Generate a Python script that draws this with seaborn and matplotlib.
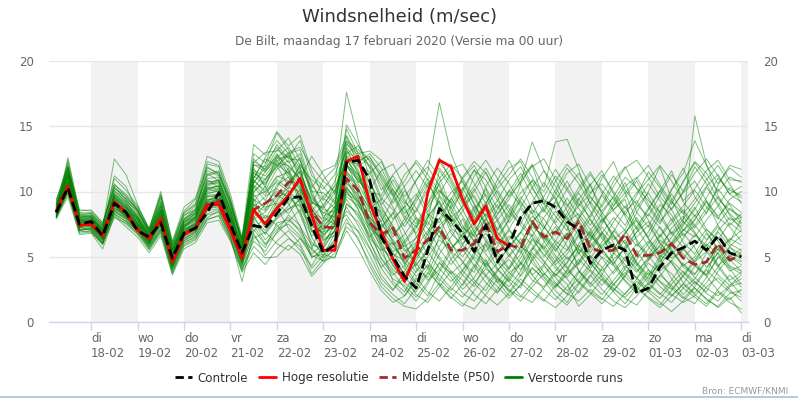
import matplotlib
matplotlib.use('Agg')
import matplotlib.pyplot as plt
from matplotlib.lines import Line2D
import pandas as pd
import seaborn as sns

# eerste tijdstap en aantal 6-uurlijkse stappen
start = '2020-02-17 06:00'
n_steps = 60

day_ticks = ['2020-02-18', '2020-02-19', '2020-02-20', '2020-02-21', '2020-02-22',
             '2020-02-23', '2020-02-24', '2020-02-25', '2020-02-26', '2020-02-27',
             '2020-02-28', '2020-02-29', '2020-03-01', '2020-03-02', '2020-03-03']
day_names = ['di', 'wo', 'do', 'vr', 'za', 'zo', 'ma', 'di', 'wo', 'do', 'vr', 'za', 'zo', 'ma', 'di']
day_labels = ['18-02', '19-02', '20-02', '21-02', '22-02', '23-02', '24-02', '25-02',
              '26-02', '27-02', '28-02', '29-02', '01-03', '02-03', '03-03']

# hoge resolutie loopt maar 10 dagen
hoge_resolutie = [8.5, 10.4, 7.4, 7.5, 6.6, 9.2, 8.4, 7.0, 6.4, 7.9, 4.6, 6.7, 7.2, 9.0, 9.0,
                  7.0, 4.9, 8.6, 7.5, 8.7, 9.7, 11.0, 8.2, 5.5, 5.5, 12.3, 12.7, 9.1, 6.9, 4.8,
                  3.1, 5.3, 9.9, 12.4, 11.9, 9.4, 7.5, 8.9, 6.4, 5.8]

controle = [8.4, 10.3, 7.5, 7.7, 6.6, 9.1, 8.4, 7.0, 6.5, 7.6, 4.9, 6.8, 7.2, 8.4, 9.9,
            7.5, 5.3, 7.4, 7.2, 8.3, 9.5, 9.6, 7.4, 5.3, 5.9, 12.2, 12.4, 10.9, 6.5, 5.0,
            3.5, 2.6, 5.5, 8.7, 7.8, 6.8, 5.4, 7.4, 4.6, 5.9, 8.0, 9.1, 9.3, 8.8, 7.7,
            7.1, 4.5, 5.5, 5.9, 5.5, 2.2, 2.6, 4.2, 5.3, 5.7, 6.2, 5.5, 6.6, 5.3, 5.0]

middelste = [8.4, 10.3, 7.5, 7.6, 6.7, 9.1, 8.4, 7.1, 6.5, 7.8, 4.7, 6.8, 7.2, 8.8, 9.3,
             7.3, 5.0, 8.6, 9.1, 9.7, 10.7, 10.9, 8.5, 7.3, 7.2, 11.0, 10.1, 7.6, 6.7, 7.2,
             4.9, 5.5, 6.3, 7.3, 5.5, 5.5, 6.0, 7.6, 5.4, 5.9, 5.65, 7.7, 6.5, 6.9, 6.4,
             7.7, 5.65, 5.4, 5.5, 6.75, 5.1, 5.1, 5.3, 6.0, 4.9, 4.4, 4.6, 6.0, 4.75, 5.1]

# 50 verstoorde runs, per dag gegroepeerd met |
verstoorde_runs = """
8.2 11.5 7.9 | 7.4 6.5 9.8 9.0 | 8.0 6.6 8.4 5.2 | 7.3 8.1 10.4 10.8 | 8.4 5.6 11.2 10.5 | 12.1 11.4 12.6 9.8 | 8.3 9.1 14.2 12.0 | 10.6 8.9 7.2 5.8 | 6.4 8.1 9.3 7.2 | 6.5 8.4 10.2 7.9 | 6.1 5.3 7.6 8.8 | 9.6 7.4 5.2 6.3 | 7.8 8.6 9.4 6.1 | 4.8 5.5 7.2 8.1 | 6.9 5.4 4.2 5.8 | 6.6
8.8 10.2 7.2 | 7.8 7.0 8.9 8.1 | 7.2 6.0 7.6 4.4 | 6.6 7.0 8.9 9.1 | 7.1 4.6 8.8 9.6 | 10.3 11.8 9.4 7.6 | 6.2 7.0 11.3 10.4 | 7.9 6.1 4.3 3.2 | 4.6 6.8 8.0 6.1 | 4.5 3.8 6.2 5.1 | 4.0 5.7 7.3 6.6 | 5.4 6.8 3.9 2.7 | 3.6 5.2 6.3 4.4 | 3.1 4.9 6.0 5.2 | 4.3 3.6 5.9 4.8 | 3.9
8.0 12.4 8.3 | 8.4 7.4 10.6 9.6 | 8.6 6.8 9.1 5.6 | 7.9 8.7 11.6 11.2 | 9.1 6.2 12.3 11.7 | 13.2 12.6 13.9 11.2 | 10.4 9.2 15.1 13.6 | 11.8 9.5 8.6 6.9 | 5.1 6.4 8.7 9.9 | 10.8 9.1 7.3 8.2 | 9.7 11.1 12.0 9.3 | 8.1 7.0 9.4 10.6 | 8.2 6.3 7.1 8.8 | 9.9 8.4 6.7 7.5 | 8.6 10.3 9.1 7.8 | 8.0
8.6 10.9 7.0 | 7.2 6.2 9.0 8.8 | 7.9 6.4 8.3 5.0 | 7.4 7.9 9.8 10.1 | 7.8 5.3 9.5 7.4 | 9.2 10.6 11.9 8.5 | 6.6 7.8 12.5 11.1 | 9.4 7.0 5.3 4.1 | 2.8 4.1 6.6 5.3 | 3.9 5.1 7.4 4.6 | 3.3 2.6 4.9 6.1 | 7.3 5.8 4.4 5.6 | 6.8 4.7 3.2 2.4 | 3.5 5.1 4.6 3.0 | 2.2 3.4 5.0 4.1 | 2.9
9.1 11.1 8.1 | 8.0 7.1 9.6 8.9 | 7.5 6.7 8.6 5.3 | 7.6 8.3 10.9 10.3 | 8.0 5.9 10.6 12.1 | 14.5 13.2 10.8 8.2 | 7.5 8.9 13.0 11.9 | 12.6 11.4 9.8 8.1 | 7.3 9.0 10.6 8.5 | 7.2 6.6 8.8 10.1 | 8.7 7.4 6.5 5.0 | 6.2 7.7 8.3 7.1 | 5.6 4.4 5.8 6.9 | 7.7 6.0 5.1 6.4 | 7.9 9.2 8.0 7.3 | 6.2
8.3 10.0 6.9 | 7.0 6.0 8.6 7.8 | 7.0 5.8 7.2 4.2 | 6.2 6.8 8.5 8.7 | 6.9 4.3 7.9 8.4 | 9.6 9.9 10.7 7.0 | 5.4 6.2 10.4 9.0 | 7.3 5.8 3.1 2.3 | 3.9 5.6 7.0 4.8 | 3.6 2.7 4.5 3.5 | 2.3 3.6 5.3 4.4 | 3.0 2.1 3.8 5.1 | 4.2 2.9 2.1 3.3 | 4.5 3.8 2.6 1.8 | 2.7 4.0 3.1 2.3 | 1.9
8.7 11.7 7.8 | 7.9 6.9 9.4 8.5 | 7.8 6.5 8.1 5.0 | 7.1 7.5 9.2 9.9 | 7.7 5.2 9.9 11.0 | 11.9 12.8 11.3 9.1 | 8.8 10.5 17.6 14.0 | 11.0 8.3 6.7 7.6 | 9.2 10.7 9.1 6.8 | 5.9 7.3 6.4 5.2 | 6.3 8.0 9.1 7.4 | 6.0 4.8 5.7 7.0 | 8.3 9.6 8.1 6.3 | 5.1 6.6 7.9 6.1 | 5.2 6.8 5.7 4.6 | 5.4
8.1 10.5 7.7 | 7.5 6.7 9.1 8.2 | 7.3 6.1 7.9 4.5 | 6.9 7.3 9.4 9.4 | 7.4 4.9 8.1 6.7 | 7.9 8.6 9.4 6.5 | 5.0 6.4 9.8 9.3 | 8.1 6.4 5.2 4.7 | 6.0 7.9 11.6 10.3 | 8.6 6.9 5.4 6.6 | 7.8 9.3 7.6 6.2 | 4.9 3.7 4.5 6.2 | 7.3 6.1 4.0 3.4 | 4.7 6.3 5.6 4.2 | 3.6 5.3 6.9 5.8 | 4.7
8.9 12.0 8.0 | 8.2 7.3 12.5 11.3 | 9.0 7.1 10.0 6.1 | 8.5 9.4 12.7 12.3 | 9.8 6.5 13.6 12.8 | 14.6 13.5 14.3 11.6 | 9.5 8.7 14.8 12.9 | 13.1 12.4 10.5 9.2 | 8.4 10.2 12.3 11.0 | 9.4 8.0 10.4 11.8 | 10.6 9.1 8.3 9.6 | 11.2 10.1 8.7 7.4 | 9.0 10.8 11.9 10.2 | 8.8 7.5 9.3 10.7 | 12.2 11.0 9.4 8.6 | 8.1
8.4 10.6 7.3 | 7.6 6.4 8.8 8.0 | 7.4 6.2 7.8 4.6 | 6.7 7.1 9.0 9.2 | 7.2 4.7 7.1 5.9 | 6.8 7.7 8.6 5.7 | 4.6 5.7 9.1 8.2 | 6.7 4.9 3.8 2.6 | 1.6 2.9 4.5 3.7 | 2.5 3.4 4.8 3.1 | 2.0 2.8 4.1 3.4 | 2.4 1.5 2.9 4.0 | 3.2 2.3 1.4 2.6 | 3.8 2.7 2.0 2.9 | 4.3 3.5 2.4 1.7 | 2.5
8.5 11.3 7.6 | 7.7 6.8 9.5 8.7 | 7.7 6.6 8.2 5.1 | 7.2 7.8 10.1 10.5 | 8.2 5.4 10.4 9.3 | 10.9 10.2 12.1 10.7 | 8.9 7.6 12.7 11.5 | 8.6 6.0 7.8 8.9 | 6.6 5.2 7.4 8.3 | 10.2 11.7 9.6 7.7 | 5.8 6.9 8.6 7.9 | 6.6 8.4 9.9 8.5 | 6.9 5.6 6.8 8.0 | 6.4 5.0 6.1 7.4 | 8.8 7.1 6.3 7.6 | 6.9
8.0 10.1 7.1 | 7.1 6.1 8.4 7.9 | 6.9 5.7 7.0 4.0 | 6.0 6.6 8.0 8.5 | 6.6 4.1 6.2 5.4 | 6.9 8.2 7.4 4.9 | 5.6 7.1 8.8 7.4 | 5.7 3.6 2.5 3.4 | 5.1 6.3 5.0 3.9 | 2.8 4.2 5.9 4.1 | 3.1 4.5 6.3 5.2 | 4.1 3.3 2.2 3.5 | 5.0 4.3 3.1 2.2 | 2.9 4.4 3.7 2.6 | 3.3 4.7 3.6 2.8 | 3.6
9.3 11.9 8.4 | 8.3 7.5 10.3 9.4 | 8.3 7.0 8.9 5.8 | 8.1 8.9 11.2 11.5 | 9.0 6.1 11.8 10.3 | 12.8 11.9 11.0 12.7 | 11.3 9.8 13.7 12.5 | 10.1 11.6 12.1 10.3 | 8.0 6.6 9.8 11.4 | 9.9 7.8 9.0 10.9 | 12.4 10.5 8.6 7.1 | 9.3 10.8 9.1 8.0 | 9.7 8.5 7.4 9.1 | 10.6 9.3 7.8 8.9 | 10.1 8.8 7.9 9.4 | 10.0
8.6 10.7 7.5 | 7.4 6.6 9.2 8.4 | 7.6 6.3 8.1 4.8 | 7.0 7.7 9.6 9.7 | 7.9 5.1 9.1 8.0 | 8.4 9.2 9.9 7.4 | 6.8 8.6 11.6 10.2 | 8.5 7.3 8.4 6.2 | 4.1 3.4 5.2 6.5 | 7.9 6.1 4.2 5.3 | 6.6 5.5 3.6 4.4 | 5.9 6.8 5.3 4.1 | 5.4 7.0 6.0 4.6 | 3.3 4.6 5.8 6.8 | 5.7 4.2 5.3 6.4 | 5.9
8.2 11.0 7.9 | 7.9 7.2 11.2 10.4 | 8.4 6.9 9.5 5.5 | 7.8 8.5 12.1 11.9 | 9.4 6.0 12.9 12.2 | 13.4 12.2 12.9 10.1 | 8.0 7.5 13.3 11.4 | 8.8 7.7 9.4 11.3 | 12.2 10.9 8.7 7.3 | 8.5 10.0 11.5 9.6 | 7.6 8.8 10.3 11.6 | 10.4 8.5 6.9 8.2 | 9.8 11.2 9.9 7.7 | 6.5 8.2 10.1 11.8 | 9.6 8.3 10.5 12.0 | 11.7
8.8 10.4 7.4 | 7.3 6.3 8.7 8.3 | 7.2 6.0 7.7 4.3 | 6.5 7.2 8.8 9.0 | 7.0 4.5 8.3 7.7 | 8.9 10.1 8.2 6.1 | 5.3 6.0 10.1 8.7 | 6.4 5.5 6.1 4.4 | 3.0 2.0 3.8 5.4 | 4.7 3.2 2.4 3.9 | 5.1 6.4 4.8 3.5 | 2.6 3.9 5.6 4.6 | 3.4 2.4 3.6 5.2 | 6.2 4.9 3.3 2.1 | 3.1 2.3 3.9 5.0 | 4.4
8.4 12.6 8.5 | 8.6 7.6 10.1 9.2 | 8.1 6.8 8.7 5.4 | 7.5 8.2 10.7 10.9 | 8.6 5.8 11.6 11.2 | 12.4 11.1 10.3 8.7 | 7.0 8.1 12.9 13.5 | 12.3 10.1 11.2 9.6 | 10.8 12.4 11.1 8.8 | 7.1 8.9 7.5 6.3 | 7.9 10.6 12.1 10.3 | 13.8 14.0 11.7 9.0 | 7.6 9.2 10.7 8.4 | 7.3 9.0 8.2 6.6 | 7.4 8.7 10.2 9.0 | 7.6
8.5 10.3 7.7 | 7.8 6.9 9.0 8.6 | 7.5 6.4 7.4 4.7 | 6.8 7.4 9.1 9.3 | 7.5 5.0 7.7 6.3 | 7.3 8.0 6.9 5.2 | 6.0 7.4 9.6 8.9 | 7.8 5.9 4.4 3.0 | 2.3 3.7 5.8 7.1 | 5.6 4.3 3.0 2.2 | 3.5 4.9 6.4 5.7 | 4.4 5.2 6.6 5.0 | 3.7 2.8 4.1 5.5 | 4.0 3.1 2.5 3.6 | 4.8 5.9 4.4 3.2 | 3.8
9.0 11.4 8.2 | 8.1 7.0 9.7 9.1 | 8.2 6.7 8.8 5.5 | 7.7 8.0 10.2 10.0 | 8.1 5.7 10.9 9.9 | 11.2 10.8 11.5 9.3 | 8.4 8.0 12.0 10.8 | 9.9 8.7 7.4 6.0 | 7.2 8.8 10.1 9.2 | 7.4 6.2 7.9 9.0 | 7.1 6.0 7.7 8.6 | 7.5 6.3 7.9 9.2 | 8.0 6.7 5.5 6.9 | 8.3 7.2 6.0 7.1 | 6.5 7.8 8.9 7.4 | 8.3
7.9 9.6 6.7 | 6.8 5.6 8.1 7.3 | 6.5 5.3 6.6 3.6 | 5.6 6.1 7.6 7.8 | 6.2 3.8 5.3 4.4 | 5.6 6.4 5.8 3.7 | 4.8 6.1 7.9 6.3 | 4.6 3.0 2.1 1.4 | 2.6 3.8 2.9 1.9 | 1.2 2.4 3.6 2.7 | 1.8 2.9 4.2 3.2 | 2.0 1.3 2.4 3.6 | 2.5 1.6 1.1 2.0 | 3.0 2.2 1.5 2.6 | 1.9 1.2 2.3 1.5 | 1.0
8.6 11.2 7.8 | 7.6 6.7 9.4 8.8 | 7.9 6.5 8.3 5.0 | 7.3 8.0 10.6 10.6 | 8.3 5.5 10.2 11.5 | 12.9 11.6 9.0 7.1 | 6.5 7.7 11.9 10.9 | 9.7 8.0 6.5 7.9 | 9.6 11.5 16.8 12.9 | 10.7 9.0 7.6 6.0 | 7.1 8.7 7.0 5.6 | 6.9 8.1 9.5 7.8 | 6.4 5.3 6.7 8.4 | 10.0 11.9 9.4 7.6 | 15.8 12.1 9.7 8.2 | 7.1
8.3 10.8 7.4 | 7.5 6.5 8.9 8.1 | 7.1 6.2 7.5 4.4 | 6.8 7.3 9.0 9.5 | 7.3 4.8 8.6 9.1 | 10.0 9.6 8.8 6.9 | 7.4 8.2 10.8 9.5 | 6.9 4.8 3.6 4.3 | 5.9 4.7 3.3 2.4 | 3.6 5.0 4.3 3.0 | 4.2 5.8 5.1 3.8 | 2.7 3.6 4.8 3.9 | 2.8 3.9 5.0 4.1 | 2.9 2.1 3.2 4.5 | 3.4 2.6 2.0 2.8 | 3.3
8.7 11.6 7.9 | 8.0 7.0 9.9 9.3 | 8.5 6.9 9.3 5.7 | 7.9 8.4 11.0 11.1 | 8.9 6.2 10.8 10.1 | 11.7 12.4 10.6 8.4 | 7.9 9.6 12.3 12.1 | 11.5 9.3 7.9 8.8 | 9.8 8.2 6.9 5.6 | 6.8 8.7 9.8 8.3 | 9.4 10.8 11.9 12.5 | 10.9 9.0 7.8 6.4 | 7.5 8.9 10.4 11.1 | 9.5 8.0 6.8 7.9 | 9.1 10.4 11.3 9.8 | 9.2
8.1 10.0 7.2 | 7.3 6.4 8.5 8.0 | 7.0 5.9 7.3 4.1 | 6.3 6.9 8.7 8.8 | 6.8 4.4 7.4 6.0 | 7.1 7.5 6.6 5.0 | 5.2 4.9 7.6 7.0 | 5.6 4.2 5.0 3.6 | 2.1 1.5 2.7 3.9 | 3.2 2.1 1.4 2.5 | 3.8 3.0 2.2 1.6 | 2.8 4.0 3.1 2.3 | 1.7 2.9 3.8 2.7 | 1.9 1.3 2.4 3.5 | 2.6 1.7 1.2 2.2 | 2.4
8.9 11.8 8.0 | 8.1 7.2 10.0 9.5 | 8.7 7.0 9.2 5.9 | 8.2 8.6 11.4 10.8 | 8.7 6.4 11.0 12.6 | 13.9 12.9 11.8 10.3 | 11.6 12.0 14.3 12.6 | 10.7 9.0 10.2 8.6 | 7.5 9.1 11.0 12.1 | 11.0 12.0 10.3 8.7 | 10.0 11.4 9.7 8.4 | 10.1 11.8 10.6 9.1 | 11.0 12.3 10.1 9.0 | 8.1 9.7 11.3 10.0 | 11.9 10.6 8.9 10.3 | 9.5
8.4 10.6 7.5 | 7.7 6.6 9.3 8.3 | 7.4 6.3 8.0 4.9 | 6.9 7.6 9.3 9.6 | 7.6 5.1 8.5 7.9 | 9.4 10.3 10.0 7.8 | 6.3 6.6 10.6 9.8 | 7.7 6.8 5.7 4.9 | 3.8 5.0 6.3 5.5 | 6.7 7.5 6.2 4.8 | 5.6 6.9 5.9 4.7 | 3.5 4.6 6.0 6.9 | 5.3 4.5 5.7 6.5 | 7.4 6.1 4.9 5.5 | 6.7 5.6 4.3 5.1 | 4.6
8.0 10.3 7.0 | 7.2 6.3 8.3 7.7 | 7.0 6.0 7.6 4.2 | 6.4 6.9 8.6 9.1 | 7.2 4.6 9.2 10.4 | 8.8 7.2 6.4 5.6 | 7.8 8.8 11.1 9.6 | 8.4 6.6 5.4 5.9 | 4.5 3.2 4.0 5.7 | 6.4 5.6 4.6 3.4 | 2.7 3.9 5.5 6.8 | 5.7 4.2 3.0 4.3 | 5.9 6.6 5.2 3.9 | 4.9 5.8 4.5 3.5 | 4.6 6.0 5.2 3.9 | 4.3
9.2 12.2 8.2 | 8.3 7.4 10.5 9.8 | 8.8 7.2 9.7 6.0 | 8.4 9.1 12.3 12.0 | 9.5 6.3 12.5 11.6 | 12.6 13.4 12.0 10.9 | 10.2 11.3 13.8 13.0 | 12.0 10.8 9.1 10.4 | 11.6 10.3 12.6 10.8 | 9.2 10.4 11.8 10.2 | 11.3 12.5 11.1 9.4 | 8.6 10.2 11.4 9.9 | 10.6 9.4 8.2 9.7 | 11.5 10.3 9.0 10.8 | 12.3 11.4 10.0 11.1 | 10.7
8.5 10.9 7.6 | 7.5 6.8 9.1 8.5 | 7.5 6.4 7.9 4.8 | 7.1 7.4 9.7 9.8 | 7.8 5.3 9.8 8.6 | 10.5 11.1 9.7 8.0 | 9.0 10.1 12.4 11.3 | 10.2 8.1 6.0 4.5 | 5.7 7.0 8.4 7.5 | 8.9 9.7 8.0 6.4 | 5.2 4.0 5.6 7.2 | 8.5 7.3 5.6 4.9 | 6.1 7.7 8.9 7.2 | 5.8 4.6 5.9 7.0 | 8.2 6.9 5.5 6.3 | 7.0
8.2 10.2 7.3 | 7.0 6.0 8.6 8.2 | 7.2 5.6 7.1 3.9 | 6.1 6.5 8.3 8.6 | 6.5 3.1 6.8 5.1 | 6.2 7.0 6.0 4.1 | 5.1 6.8 8.5 7.7 | 6.1 4.5 3.3 2.8 | 1.9 3.1 4.6 3.4 | 2.2 1.6 2.8 4.0 | 3.1 2.0 1.5 2.6 | 3.7 2.9 1.2 2.1 | 3.3 2.5 1.8 1.3 | 2.4 3.6 2.8 1.9 | 1.4 2.7 3.4 2.5 | 1.6
8.6 11.5 7.8 | 7.9 6.9 9.6 8.9 | 8.0 6.7 8.6 5.2 | 7.4 8.1 10.3 10.4 | 8.5 5.6 10.0 10.8 | 12.2 12.0 11.0 9.5 | 8.6 8.4 12.8 11.7 | 9.1 7.2 8.3 10.1 | 8.7 7.4 9.6 8.1 | 6.4 7.8 9.2 7.0 | 8.2 9.6 8.3 6.7 | 5.5 6.7 8.0 9.6 | 8.4 7.2 6.0 7.3 | 8.7 10.1 8.6 7.0 | 7.8 9.3 7.4 6.1 | 7.9
8.3 10.4 7.4 | 7.6 6.5 9.0 8.4 | 7.3 6.2 7.8 4.6 | 6.8 7.3 9.2 9.4 | 7.3 5.0 9.0 8.5 | 9.8 9.1 7.3 5.9 | 5.7 7.0 10.0 8.6 | 7.0 5.3 4.0 3.3 | 4.9 6.1 7.3 6.0 | 5.0 6.3 5.2 4.0 | 4.8 3.5 4.7 5.9 | 4.6 5.5 7.2 6.1 | 4.9 3.7 4.8 6.0 | 5.1 3.9 4.7 5.6 | 4.5 3.6 4.9 5.7 | 5.2
8.7 11.2 7.7 | 7.8 6.8 9.4 8.6 | 7.6 6.5 8.4 5.0 | 7.2 7.9 10.0 10.2 | 8.0 5.3 10.5 9.7 | 11.1 11.5 10.4 8.0 | 7.1 7.9 11.5 10.6 | 8.9 8.5 7.0 5.4 | 6.1 7.7 6.5 8.9 | 10.3 8.6 6.9 7.8 | 9.0 7.7 6.6 8.0 | 9.2 8.0 6.6 5.3 | 6.8 8.0 7.0 5.8 | 6.9 8.5 9.8 8.4 | 7.2 8.4 9.6 8.3 | 7.5
8.0 9.8 6.8 | 6.9 5.9 8.2 7.5 | 6.7 5.5 6.8 3.8 | 5.8 6.3 7.9 8.1 | 6.3 4.0 5.8 4.9 | 5.0 5.9 5.2 3.5 | 4.5 5.3 7.3 6.5 | 4.3 2.7 1.8 1.2 | 1.0 1.8 3.0 2.2 | 1.4 1.0 2.1 3.3 | 2.4 1.6 2.7 3.7 | 2.9 2.2 1.6 2.5 | 1.8 1.2 2.2 3.1 | 2.3 1.5 0.8 1.6 | 2.6 1.8 1.1 1.9 | 0.7
8.8 11.0 7.9 | 7.9 7.1 9.7 9.0 | 8.0 6.6 8.5 5.3 | 7.6 8.4 10.5 10.9 | 8.7 5.7 11.4 10.9 | 12.3 12.9 13.2 10.5 | 9.3 10.8 13.1 12.4 | 12.7 11.0 9.6 7.9 | 6.8 8.3 7.6 9.4 | 11.1 12.3 11.4 9.9 | 8.4 7.5 9.2 10.7 | 9.4 7.8 8.9 10.5 | 11.6 9.8 8.3 7.1 | 8.6 10.0 11.6 9.2 | 8.1 9.5 11.0 10.1 | 9.7
8.4 10.1 7.3 | 7.4 6.4 8.7 8.2 | 7.3 6.1 7.6 4.5 | 6.6 7.2 8.9 9.0 | 7.2 4.6 7.5 6.8 | 8.1 8.7 9.0 7.3 | 6.9 7.3 9.4 8.0 | 6.5 7.5 6.2 4.6 | 3.5 4.3 3.1 4.8 | 5.9 4.8 3.6 4.5 | 5.8 4.5 3.2 2.7 | 3.9 5.0 4.0 2.9 | 4.1 5.3 4.4 3.3 | 2.3 3.5 4.7 3.8 | 2.9 4.1 5.3 4.2 | 3.7
9.0 11.9 8.2 | 8.2 7.3 11.0 10.1 | 8.9 7.1 9.6 5.9 | 8.3 9.0 11.9 11.3 | 9.1 6.3 12.0 11.9 | 13.6 12.5 12.4 9.7 | 8.1 8.6 12.1 11.0 | 10.0 9.7 11.3 12.2 | 10.5 8.4 10.7 11.7 | 12.1 10.6 9.1 10.5 | 11.8 12.3 10.4 8.6 | 9.8 11.4 12.1 10.4 | 8.8 10.4 11.8 12.4 | 11.1 9.6 8.6 10.0 | 11.4 12.5 11.2 9.8 | 10.4
8.2 10.5 7.5 | 7.3 6.6 8.9 8.3 | 7.5 6.2 7.9 4.7 | 6.9 7.5 9.4 9.5 | 7.5 4.9 8.7 7.2 | 8.6 9.8 8.4 6.6 | 7.2 8.5 11.4 9.9 | 7.4 6.3 7.3 5.6 | 4.3 5.7 7.1 8.2 | 6.9 5.3 4.4 5.8 | 7.0 6.0 4.5 3.6 | 4.7 6.2 7.6 6.6 | 5.6 4.4 3.5 4.8 | 6.0 7.3 5.9 4.9 | 5.9 7.1 6.2 5.0 | 5.6
8.6 11.3 7.8 | 7.7 6.8 9.5 8.8 | 7.8 6.6 8.5 5.1 | 7.3 7.8 10.2 10.4 | 8.1 5.4 11.0 12.5 | 12.0 10.4 11.6 9.2 | 8.7 9.9 12.6 10.7 | 11.4 12.3 10.1 9.0 | 10.9 11.9 10.4 8.0 | 8.8 10.2 8.5 7.1 | 8.5 9.9 10.8 9.1 | 7.6 8.8 10.3 11.5 | 9.9 8.6 9.6 10.8 | 9.0 7.7 8.7 9.9 | 10.8 9.3 8.1 9.1 | 8.4
8.3 10.2 7.2 | 7.2 6.3 8.5 8.0 | 7.1 5.9 7.4 4.3 | 6.4 7.0 8.7 8.9 | 6.9 4.5 6.6 5.7 | 7.6 7.8 7.1 5.5 | 4.9 5.5 9.0 8.4 | 6.2 4.1 2.9 2.0 | 3.2 4.4 3.6 2.6 | 1.9 3.0 4.1 3.3 | 2.5 1.9 3.0 4.3 | 3.4 2.4 3.3 4.5 | 3.5 2.6 1.9 2.8 | 4.0 3.1 2.1 1.5 | 2.0 3.0 4.2 3.1 | 2.1
8.5 10.8 7.6 | 7.5 6.7 9.2 8.5 | 7.5 6.3 8.1 4.9 | 7.0 7.5 9.6 9.7 | 7.7 5.1 9.6 10.0 | 10.7 10.0 9.2 8.5 | 9.6 10.4 12.2 10.1 | 8.7 9.4 10.9 9.4 | 7.8 6.2 7.9 9.5 | 8.1 6.5 7.2 8.6 | 10.1 8.9 7.5 6.3 | 7.9 9.5 8.1 6.7 | 5.7 6.9 8.5 9.3 | 7.8 6.5 7.6 8.6 | 7.4 6.3 7.5 8.7 | 8.0
8.9 11.4 8.0 | 8.0 7.0 9.8 9.2 | 8.1 6.8 8.9 5.5 | 7.7 8.3 10.8 10.7 | 8.6 5.9 12.2 13.0 | 13.1 14.1 12.4 10.0 | 9.9 9.1 13.6 12.8 | 11.9 10.5 8.8 7.3 | 8.6 10.5 11.8 10.6 | 9.0 11.2 12.4 11.0 | 9.6 10.7 13.8 11.6 | 9.9 8.9 10.0 11.3 | 10.1 8.9 9.9 11.0 | 12.0 10.5 9.2 8.3 | 9.4 10.9 12.0 10.6 | 9.1
8.1 10.0 7.1 | 7.1 6.1 8.3 7.7 | 6.8 5.8 7.1 4.1 | 6.2 6.7 8.2 8.4 | 6.6 4.2 6.9 8.2 | 7.4 6.5 5.5 4.3 | 5.8 7.6 8.2 6.9 | 5.1 3.3 2.4 3.9 | 5.4 4.1 2.8 1.8 | 2.9 4.4 3.5 2.3 | 3.3 4.6 3.6 2.5 | 1.7 2.7 3.9 3.0 | 2.1 3.2 4.3 3.4 | 2.5 1.8 2.9 3.9 | 3.1 2.2 1.6 2.7 | 3.0
8.7 11.7 8.1 | 8.1 7.1 10.2 9.7 | 8.6 6.9 9.0 5.6 | 7.8 8.6 11.3 11.6 | 9.2 6.0 11.5 10.6 | 11.9 13.0 13.4 11.9 | 10.8 10.0 13.4 12.2 | 12.9 11.8 9.9 8.3 | 9.4 11.0 9.7 8.7 | 10.0 11.6 10.9 9.3 | 8.0 9.4 10.9 10.0 | 11.7 10.3 8.9 9.8 | 11.3 10.0 8.7 9.9 | 10.9 12.0 10.8 9.3 | 10.2 11.6 12.4 10.9 | 10.8
8.4 10.7 7.4 | 7.5 6.5 9.0 8.4 | 7.4 6.2 7.8 4.7 | 6.8 7.4 9.2 9.4 | 7.4 5.0 8.0 9.0 | 10.2 9.5 10.9 8.9 | 7.7 8.3 10.9 9.2 | 8.0 7.1 5.9 6.7 | 8.0 7.2 5.6 4.4 | 5.5 6.8 7.9 6.3 | 5.0 6.1 7.5 6.5 | 5.1 4.1 5.3 6.7 | 7.9 6.6 5.4 4.3 | 5.6 6.7 5.4 4.3 | 5.0 6.2 7.3 6.0 | 5.5
8.0 9.9 7.0 | 6.9 6.0 8.0 7.6 | 6.8 5.6 6.9 3.7 | 5.9 6.4 7.8 8.2 | 6.4 3.9 6.4 6.9 | 6.0 5.5 6.4 5.1 | 4.7 5.0 7.0 5.6 | 3.9 2.4 1.5 2.0 | 3.4 2.3 1.6 2.7 | 3.9 3.0 2.0 1.3 | 2.2 3.3 2.5 1.7 | 1.1 2.0 3.0 2.2 | 1.4 2.4 3.5 2.6 | 1.8 1.1 2.0 2.9 | 2.1 1.4 2.5 3.6 | 2.7
9.4 11.8 8.6 | 8.5 7.6 10.4 9.4 | 8.5 7.1 9.8 6.2 | 8.8 9.5 11.8 11.4 | 9.3 6.4 12.1 11.5 | 12.5 12.7 11.6 9.0 | 10.9 11.8 13.9 13.2 | 12.4 11.2 9.7 10.8 | 12.4 11.3 10.0 9.1 | 11.0 9.5 8.1 9.3 | 10.9 11.9 10.2 9.0 | 10.8 12.1 11.0 9.6 | 8.5 9.6 11.1 10.3 | 9.3 8.4 10.2 11.4 | 13.9 12.0 10.6 11.8 | 11.1
8.6 10.5 7.3 | 7.6 6.4 9.3 8.6 | 7.7 6.4 8.2 4.9 | 7.1 7.6 9.9 10.0 | 7.9 5.2 9.4 8.8 | 9.1 8.3 9.5 7.7 | 6.7 7.4 10.3 9.1 | 7.6 5.6 4.9 6.2 | 7.4 6.0 4.8 3.7 | 4.5 5.9 6.8 5.4 | 4.1 5.2 6.7 5.5 | 4.3 3.4 4.6 5.8 | 6.9 5.8 4.7 3.8 | 4.8 5.9 6.9 5.7 | 4.6 5.4 6.5 5.3 | 4.9
8.2 10.4 7.6 | 7.7 6.6 9.1 8.0 | 7.2 6.0 7.7 4.4 | 6.7 7.1 9.1 9.2 | 7.1 4.8 7.9 7.0 | 8.0 8.9 10.2 8.3 | 6.4 6.9 10.2 9.4 | 7.2 6.4 4.8 3.7 | 4.4 5.4 4.1 3.1 | 4.0 5.3 6.0 4.7 | 3.8 4.4 5.7 4.6 | 3.6 4.5 5.9 4.7 | 3.9 4.8 5.6 4.5 | 3.6 4.4 5.5 4.4 | 3.7 4.6 5.6 4.3 | 3.9
8.8 11.1 7.8 | 7.8 7.0 9.6 8.7 | 7.9 6.6 8.6 5.2 | 7.4 8.0 10.3 10.2 | 8.3 5.5 10.7 11.8 | 12.7 11.3 10.1 8.7 | 7.3 7.3 12.0 11.3 | 9.5 7.6 6.3 5.1 | 6.5 8.0 9.2 7.7 | 6.0 7.0 8.3 6.9 | 5.7 6.8 8.1 7.3 | 6.2 5.5 6.7 7.9 | 6.6 5.6 6.9 7.8 | 6.4 5.3 6.5 7.7 | 6.8 5.8 7.0 8.0 | 7.3
"""

times = pd.date_range(start, periods=n_steps, freq='6h')

records = []
for k, line in enumerate(verstoorde_runs.strip().splitlines()):
    vals = [float(v) for v in line.replace('|', ' ').split()]
    if len(vals) != n_steps:
        raise ValueError(f'run {k + 1} has {len(vals)} values')
    for t, v in zip(times, vals):
        records.append({'run': k, 'tijd': t, 'ws': v})
df_runs = pd.DataFrame(records)

sns.set_theme(style='white')
plt.rcParams['font.family'] = ['DejaVu Sans']

fig = plt.figure(figsize=(7.98, 3.98), dpi=100)
ax = fig.add_axes([49 / 798, 1 - 322 / 398, 699 / 798, 261 / 398])

# afwisselend grijze dagen
ticks = pd.to_datetime(day_ticks)
for d in ticks[::2]:
    ax.axvspan(d, d + pd.Timedelta(days=1), color='#f2f2f2', lw=0, zorder=0)

sns.lineplot(data=df_runs, x='tijd', y='ws', units='run', estimator=None,
             color='#008000', lw=0.7, alpha=0.5, ax=ax, legend=False, zorder=2)
sns.lineplot(x=times, y=middelste, color='#a52a2a', lw=2, linestyle=(0, (3.5, 1.6)),
             ax=ax, zorder=3)
sns.lineplot(x=times[:len(hoge_resolutie)], y=hoge_resolutie, color='#ff0000', lw=2,
             ax=ax, zorder=4)
sns.lineplot(x=times, y=controle, color='black', lw=2, linestyle=(0, (3.5, 1.6)),
             ax=ax, zorder=5)

ax.set_xlim(pd.Timestamp('2020-02-17 02:15'), pd.Timestamp('2020-03-03 03:30'))
ax.set_ylim(0, 20)
ax.set_yticks([0, 5, 10, 15, 20])
ax.yaxis.grid(True, color='#e6e6e6', lw=1)
ax.set_axisbelow(True)
ax.set_xlabel('')
ax.set_ylabel('')

ax.set_xticks(ticks)
ax.set_xticklabels([f'{n}\n{l}' for n, l in zip(day_names, day_labels)])
for lbl in ax.get_xticklabels():
    lbl.set_ha('left')
ax.tick_params(axis='x', length=5.8, width=1, color='#ccd6eb', bottom=True,
               labelcolor='#666666', labelsize=8.5, pad=1.5)
ax.tick_params(axis='y', length=0, labelleft=True, labelright=True,
               labelcolor='#666666', labelsize=8.5, pad=11)

for s in ['top', 'left', 'right']:
    ax.spines[s].set_visible(False)
ax.spines['bottom'].set_color('#ccd6eb')
ax.spines['bottom'].set_linewidth(1)

fig.text(0.5, 1 - 17 / 398, 'Windsnelheid (m/sec)', ha='center', va='center',
         fontsize=13, color='#333333')
fig.text(0.5, 1 - 41 / 398, 'De Bilt, maandag 17 februari 2020 (Versie ma 00 uur)',
         ha='center', va='center', fontsize=8.7, color='#666666')
fig.text(788 / 798, 1 - 391 / 398, 'Bron: ECMWF/KNMI', ha='right', va='center',
         fontsize=6.5, color='#999999')

handles = [
    Line2D([], [], color='black', lw=2, linestyle=(0, (3, 1.6))),
    Line2D([], [], color='#ff0000', lw=2),
    Line2D([], [], color='#a52a2a', lw=2, linestyle=(0, (3, 1.6))),
    Line2D([], [], color='#008000', lw=2),
]
labels = ['Controle', 'Hoge resolutie', 'Middelste (P50)', 'Verstoorde runs']
leg = fig.legend(handles, labels, loc='center', bbox_to_anchor=(0.5, 1 - 378 / 398),
                 ncol=4, frameon=False, fontsize=8.6, handlelength=1.4,
                 handletextpad=0.5, columnspacing=0.9)
for t in leg.get_texts():
    t.set_color('#333333')

fig.add_artist(Line2D([0, 1], [0.8 / 398, 0.8 / 398], color='#aabfe0', lw=1.2))

fig.savefig('out.png', dpi=100)
